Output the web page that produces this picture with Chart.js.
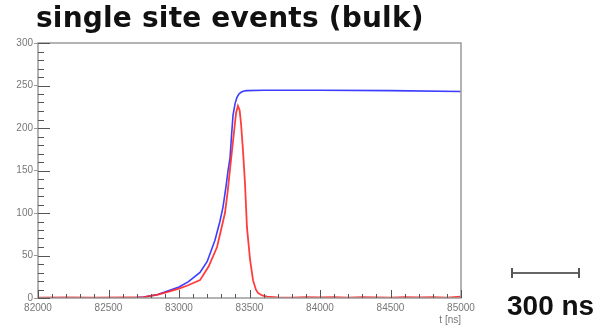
<!DOCTYPE html>
<html>
<head>
<meta charset="utf-8">
<script src="https://cdn.jsdelivr.net/npm/chart.js@4/dist/chart.umd.min.js"></script>
<style>
  html, body { margin: 0; padding: 0; background: #fff; }
  #wrap { position: relative; width: 596px; height: 327px; overflow: hidden; }
  #c { position: absolute; left: 0; top: 0; }
  #title {
    position: absolute; left: 36px; top: 1px;
    font-family: "DejaVu Sans", sans-serif; font-weight: bold; font-size: 28px;
    color: #111; white-space: nowrap; line-height: 34px; letter-spacing: 0.2px;
  }
  #bar {
    position: absolute; left: 511px; top: 268px; width: 69px; height: 10px;
    border-left: 2px solid #555; border-right: 2px solid #555; box-sizing: border-box;
  }
  #bar::after {
    content: ""; position: absolute; left: 0; right: 0; top: 4px; height: 2px; background: #666;
  }
  #scale {
    position: absolute; left: 507px; top: 290px;
    font-family: "Liberation Sans", Arial, sans-serif; font-weight: bold; font-size: 28px;
    color: #111; white-space: nowrap;
  }
</style>
</head>
<body>
<div id="wrap">
  <canvas id="c" width="596" height="327"></canvas>
  <div id="title">single site events (bulk)</div>
  <div id="bar"></div>
  <div id="scale">300 ns</div>
</div>
<script>
// Time axis (ns) and tick settings
const tMin = 82000, tMax = 85000, tStep = 500, tMinorStep = 100;
const yMin = 0, yMax = 300, yStep = 50, yMinorStep = 10;
const xTickLabels = ["82000", "82500", "83000", "83500", "84000", "84500", "85000"];
const yTickLabels = ["0", "50", "100", "150", "200", "250", "300"];

// Integrated charge (blue)
const chargeTime  = [82000, 82500, 82700, 82750, 82850, 82915, 83000, 83065, 83149, 83200, 83255, 83290, 83312, 83335, 83348, 83362, 83373, 83383, 83398, 83411, 83425, 83440, 83460, 83482, 83600, 84000, 84500, 85000];
const chargeValue = [0,     0,     0.5,   1,     4,     8,     13,    19,    30,    43,    68,    90,    107,   133,   150,   165,   192,   215,   229,   236,   240,   242,   243.5, 244,   244.5, 244.5, 244,   243];

// Current pulse (red)
const currentTime  = [82000, 82200, 82400, 82600, 82750, 82850, 82915, 83000, 83065, 83149, 83210, 83270, 83326, 83345, 83362, 83375, 83390, 83405, 83418, 83430, 83440, 83454, 83468, 83482, 83504, 83525, 83545, 83560, 83590, 83624, 83700, 83800, 83900, 84000, 84100, 84200, 84300, 84400, 84500, 84600, 84700, 84800, 84900, 85000];
const currentValue = [0.5,   0.8,   0.4,   0.7,   1,     4,     7,     11,    15,    21,    37,    60,    100,   125,   152,   172,   195,   218,   226,   221,   205,   173,   135,   83,    45,    21,    10,    6,     3,     1.5,   0.8,   0.5,   1,     0.6,   0.9,   0.4,   1,     0.7,   0.5,   1,     0.6,   0.9,   0.5,   1.5];

const toPoints = (ts, vs) => ts.map((t, i) => ({ x: t, y: vs[i] }));

// Frame and inward-pointing ticks, ROOT style
const frameTicks = {
  id: 'frameTicks',
  afterDatasetsDraw(chart) {
    const { ctx, chartArea: a, scales: { x, y } } = chart;
    ctx.save();
    ctx.strokeStyle = '#9a9a9a';
    ctx.lineWidth = 1.5;
    ctx.strokeRect(a.left, a.top, a.right - a.left, a.bottom - a.top);
    ctx.strokeStyle = '#555';
    ctx.lineWidth = 1;
    ctx.beginPath();
    for (let v = yMin; v <= yMax; v += yMinorStep) {
      const py = Math.round(y.getPixelForValue(v)) + 0.5;
      const len = (v % yStep === 0) ? 12 : 6;
      ctx.moveTo(a.left, py); ctx.lineTo(a.left + len, py);
    }
    for (let t = tMin; t <= tMax; t += tMinorStep) {
      const px = Math.round(x.getPixelForValue(t)) + 0.5;
      const len = (t % tStep === 0) ? 8 : 4;
      ctx.moveTo(px, a.bottom); ctx.lineTo(px, a.bottom - len);
    }
    ctx.stroke();
    ctx.restore();
  }
};

new Chart(document.getElementById('c'), {
  type: 'scatter',
  data: {
    datasets: [
      { data: toPoints(currentTime, currentValue), showLine: true, borderColor: 'rgba(255,40,40,0.9)', borderWidth: 1.8, pointRadius: 0, tension: 0 },
      { data: toPoints(chargeTime, chargeValue), showLine: true, borderColor: 'rgba(40,40,255,0.9)', borderWidth: 1.6, pointRadius: 0, tension: 0 }
    ]
  },
  options: {
    responsive: false,
    animation: false,
    layout: { padding: { left: 0, right: 135, top: 43, bottom: 0 } },
    plugins: { legend: { display: false }, tooltip: { enabled: false } },
    scales: {
      x: {
        type: 'linear', min: tMin, max: tMax,
        afterFit(s) { s.height = 29; },
        afterBuildTicks(s) { s.ticks = xTickLabels.map(v => ({ value: Number(v) })); },
        ticks: { callback: (v) => String(v), font: { family: 'Liberation Sans', size: 10 }, color: '#777', padding: 4, maxRotation: 0, autoSkip: false },
        grid: { drawOnChartArea: false, drawTicks: false },
        border: { display: false },
        title: { display: true, text: 't [ns]', align: 'end', font: { family: 'Liberation Sans', size: 10 }, color: '#777', padding: { top: 0, bottom: 1 } }
      },
      y: {
        type: 'linear', min: yMin, max: yMax,
        afterFit(s) { s.width = 38; },
        afterBuildTicks(s) { s.ticks = yTickLabels.map(v => ({ value: Number(v) })); },
        ticks: { callback: (v) => String(v), font: { family: 'Liberation Sans', size: 10 }, color: '#777', padding: 1 },
        grid: { drawOnChartArea: false, drawTicks: true, tickLength: 4, color: '#999' },
        border: { display: false }
      }
    }
  },
  plugins: [frameTicks]
});
</script>
</body>
</html>
